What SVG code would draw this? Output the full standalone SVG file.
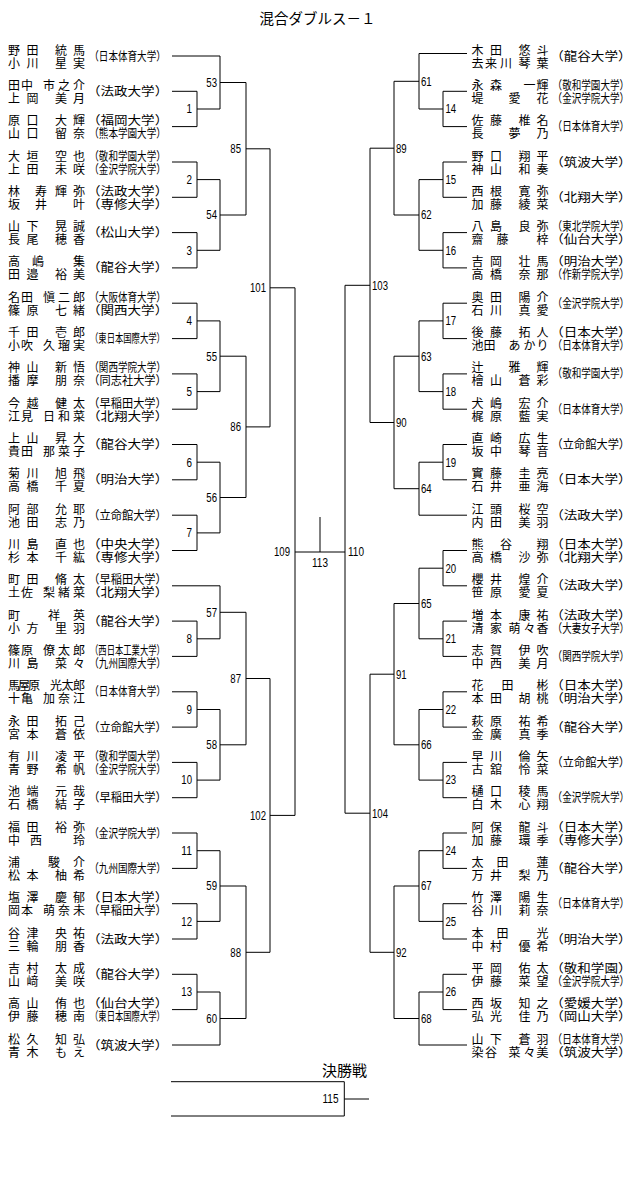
<svg xmlns="http://www.w3.org/2000/svg" width="640" height="1177" viewBox="0 0 640 1177">
<style>
text { font-family: 'Noto Sans CJK JP', 'Noto Sans CJK SC', sans-serif; fill: #000; }
.n { font-size: 12px; }
.u { font-size: 12px; }
.d { font-family: 'Liberation Sans', Arial, sans-serif; font-size: 12px; }
.de { font-family: 'Liberation Sans', Arial, sans-serif; font-size: 12px; text-anchor: end; }
.conn { fill: none; stroke: #000; stroke-width: 1; }
</style>
<rect width="640" height="1177" fill="#fff"/>
<text x="317.5" y="24" font-size="14.5" text-anchor="middle">混合ダブルス－１</text>

<g id="connectors" class="conn">
<path d="M172 56H220M172 91.3H197M172 126.6H197M172 162H197M172 197.3H197M172 232.6H197M172 267.9H197M172 303.2H197M172 338.6H197M172 373.9H197M172 409.2H197M172 444.5H197M172 479.8H197M172 515.2H197M172 550.5H197M172 585.8H220M172 621.1H197M172 656.4H197M172 691.8H197M172 727.1H197M172 762.4H197M172 797.7H197M172 833H197M172 868.4H197M172 903.7H197M172 939H197M172 974.3H197M172 1009.6H197M172 1045H220"/>
<path d="M197 91.3V126.6M197 109H220M197 162V197.3M197 179.6H220M197 232.6V267.9M197 250.3H220M197 303.2V338.6M197 320.9H220M197 373.9V409.2M197 391.6H220M197 444.5V479.8M197 462.2H220M197 515.2V550.5M197 532.9H220M197 621.1V656.4M197 638.8H220M197 691.8V727.1M197 709.5H220M197 762.4V797.7M197 780.1H220M197 833V868.4M197 850.7H220M197 903.7V939M197 921.4H220M197 974.3V1009.6M197 992H220"/>
<path d="M220 56V109M220 82.5H246M220 179.6V250.3M220 215H246M220 320.9V391.6M220 356.2H246M220 462.2V532.9M220 497.5H246M220 585.8V638.8M220 612.3H246M220 709.5V780.1M220 744.8H246M220 850.7V921.4M220 886H246M220 992V1045M220 1018.5H246"/>
<path d="M246 82.5V215M246 148.8H270M246 356.2V497.5M246 426.9H270M246 612.3V744.8M246 678.5H270M246 886V1018.5M246 952.3H270"/>
<path d="M270 148.8V426.9M270 287.8H295M270 678.5V952.3M270 815.4H295M295 287.8V815.4"/>
<path d="M295 552H345M320 517V552"/>
<path d="M467 53.5H419M467 91.3H443M467 126.6H443M467 162H443M467 197.3H443M467 232.6H443M467 267.9H443M467 303.2H443M467 338.6H443M467 373.9H443M467 409.2H443M467 444.5H443M467 479.8H443M467 515.2H419M467 550.5H443M467 585.8H443M467 621.1H443M467 656.4H443M467 691.8H443M467 727.1H443M467 762.4H443M467 797.7H443M467 833H443M467 868.4H443M467 903.7H443M467 939H443M467 974.3H443M467 1009.6H443M467 1045H419"/>
<path d="M443 91.3V126.6M443 109H419M443 162V197.3M443 179.6H419M443 232.6V267.9M443 250.3H419M443 303.2V338.6M443 320.9H419M443 373.9V409.2M443 391.6H419M443 444.5V479.8M443 462.2H419M443 550.5V585.8M443 568.2H419M443 621.1V656.4M443 638.8H419M443 691.8V727.1M443 709.5H419M443 762.4V797.7M443 780.1H419M443 833V868.4M443 850.7H419M443 903.7V939M443 921.4H419M443 974.3V1009.6M443 992H419"/>
<path d="M419 53.5V109M419 81.3H394M419 179.6V250.3M419 215H394M419 320.9V391.6M419 356.2H394M419 462.2V515.2M419 488.7H394M419 568.2V638.8M419 603.5H394M419 709.5V780.1M419 744.8H394M419 850.7V921.4M419 886H394M419 992V1045M419 1018.5H394"/>
<path d="M394 81.3V215M394 148.2H370M394 356.2V488.7M394 422.5H370M394 603.5V744.8M394 674.2H370M394 886V1018.5M394 952.3H370"/>
<path d="M370 148.2V422.5M370 285.3H345M370 674.2V952.3M370 813.2H345M345 285.3V813.2"/>
<path d="M171 1081.7H344.3V1116H171M344.3 1099H369"/>
</g>

<g id="match-labels">
<g id="m1"><text class="de" x="192" y="113.3" textLength="5.5" lengthAdjust="spacingAndGlyphs">1</text></g>
<g id="m2"><text class="de" x="192" y="183.9" textLength="5.5" lengthAdjust="spacingAndGlyphs">2</text></g>
<g id="m3"><text class="de" x="192" y="254.6" textLength="5.5" lengthAdjust="spacingAndGlyphs">3</text></g>
<g id="m4"><text class="de" x="192" y="325.2" textLength="5.5" lengthAdjust="spacingAndGlyphs">4</text></g>
<g id="m5"><text class="de" x="192" y="395.9" textLength="5.5" lengthAdjust="spacingAndGlyphs">5</text></g>
<g id="m6"><text class="de" x="192" y="466.5" textLength="5.5" lengthAdjust="spacingAndGlyphs">6</text></g>
<g id="m7"><text class="de" x="192" y="537.2" textLength="5.5" lengthAdjust="spacingAndGlyphs">7</text></g>
<g id="m8"><text class="de" x="192" y="643.1" textLength="5.5" lengthAdjust="spacingAndGlyphs">8</text></g>
<g id="m9"><text class="de" x="192" y="713.8" textLength="5.5" lengthAdjust="spacingAndGlyphs">9</text></g>
<g id="m10"><text class="de" x="192" y="784.4" textLength="10.7" lengthAdjust="spacingAndGlyphs">10</text></g>
<g id="m11"><text class="de" x="192" y="855" textLength="10.7" lengthAdjust="spacingAndGlyphs">11</text></g>
<g id="m12"><text class="de" x="192" y="925.7" textLength="10.7" lengthAdjust="spacingAndGlyphs">12</text></g>
<g id="m13"><text class="de" x="192" y="996.3" textLength="10.7" lengthAdjust="spacingAndGlyphs">13</text></g>
<g id="m53"><text class="de" x="217" y="86.8" textLength="10.7" lengthAdjust="spacingAndGlyphs">53</text></g>
<g id="m54"><text class="de" x="217" y="219.3" textLength="10.7" lengthAdjust="spacingAndGlyphs">54</text></g>
<g id="m55"><text class="de" x="217" y="360.5" textLength="10.7" lengthAdjust="spacingAndGlyphs">55</text></g>
<g id="m56"><text class="de" x="217" y="501.8" textLength="10.7" lengthAdjust="spacingAndGlyphs">56</text></g>
<g id="m57"><text class="de" x="217" y="616.6" textLength="10.7" lengthAdjust="spacingAndGlyphs">57</text></g>
<g id="m58"><text class="de" x="217" y="749.1" textLength="10.7" lengthAdjust="spacingAndGlyphs">58</text></g>
<g id="m59"><text class="de" x="217" y="890.3" textLength="10.7" lengthAdjust="spacingAndGlyphs">59</text></g>
<g id="m60"><text class="de" x="217" y="1022.8" textLength="10.7" lengthAdjust="spacingAndGlyphs">60</text></g>
<g id="m85"><text class="de" x="241" y="153.1" textLength="10.7" lengthAdjust="spacingAndGlyphs">85</text></g>
<g id="m86"><text class="de" x="241" y="431.2" textLength="10.7" lengthAdjust="spacingAndGlyphs">86</text></g>
<g id="m87"><text class="de" x="241" y="682.8" textLength="10.7" lengthAdjust="spacingAndGlyphs">87</text></g>
<g id="m88"><text class="de" x="241" y="956.6" textLength="10.7" lengthAdjust="spacingAndGlyphs">88</text></g>
<g id="m101"><text class="de" x="266" y="292.1" textLength="16" lengthAdjust="spacingAndGlyphs">101</text></g>
<g id="m102"><text class="de" x="266" y="819.7" textLength="16" lengthAdjust="spacingAndGlyphs">102</text></g>
<g id="m109"><text class="de" x="290" y="556.3" textLength="16" lengthAdjust="spacingAndGlyphs">109</text></g>
<g id="m14"><text class="d" x="445.5" y="113.3" textLength="10.7" lengthAdjust="spacingAndGlyphs">14</text></g>
<g id="m15"><text class="d" x="445.5" y="183.9" textLength="10.7" lengthAdjust="spacingAndGlyphs">15</text></g>
<g id="m16"><text class="d" x="445.5" y="254.6" textLength="10.7" lengthAdjust="spacingAndGlyphs">16</text></g>
<g id="m17"><text class="d" x="445.5" y="325.2" textLength="10.7" lengthAdjust="spacingAndGlyphs">17</text></g>
<g id="m18"><text class="d" x="445.5" y="395.9" textLength="10.7" lengthAdjust="spacingAndGlyphs">18</text></g>
<g id="m19"><text class="d" x="445.5" y="466.5" textLength="10.7" lengthAdjust="spacingAndGlyphs">19</text></g>
<g id="m20"><text class="d" x="445.5" y="572.5" textLength="10.7" lengthAdjust="spacingAndGlyphs">20</text></g>
<g id="m21"><text class="d" x="445.5" y="643.1" textLength="10.7" lengthAdjust="spacingAndGlyphs">21</text></g>
<g id="m22"><text class="d" x="445.5" y="713.8" textLength="10.7" lengthAdjust="spacingAndGlyphs">22</text></g>
<g id="m23"><text class="d" x="445.5" y="784.4" textLength="10.7" lengthAdjust="spacingAndGlyphs">23</text></g>
<g id="m24"><text class="d" x="445.5" y="855" textLength="10.7" lengthAdjust="spacingAndGlyphs">24</text></g>
<g id="m25"><text class="d" x="445.5" y="925.7" textLength="10.7" lengthAdjust="spacingAndGlyphs">25</text></g>
<g id="m26"><text class="d" x="445.5" y="996.3" textLength="10.7" lengthAdjust="spacingAndGlyphs">26</text></g>
<g id="m61"><text class="d" x="421" y="85.6" textLength="10.7" lengthAdjust="spacingAndGlyphs">61</text></g>
<g id="m62"><text class="d" x="421" y="219.3" textLength="10.7" lengthAdjust="spacingAndGlyphs">62</text></g>
<g id="m63"><text class="d" x="421" y="360.5" textLength="10.7" lengthAdjust="spacingAndGlyphs">63</text></g>
<g id="m64"><text class="d" x="421" y="493" textLength="10.7" lengthAdjust="spacingAndGlyphs">64</text></g>
<g id="m65"><text class="d" x="421" y="607.8" textLength="10.7" lengthAdjust="spacingAndGlyphs">65</text></g>
<g id="m66"><text class="d" x="421" y="749.1" textLength="10.7" lengthAdjust="spacingAndGlyphs">66</text></g>
<g id="m67"><text class="d" x="421" y="890.3" textLength="10.7" lengthAdjust="spacingAndGlyphs">67</text></g>
<g id="m68"><text class="d" x="421" y="1022.8" textLength="10.7" lengthAdjust="spacingAndGlyphs">68</text></g>
<g id="m89"><text class="d" x="396" y="152.5" textLength="10.7" lengthAdjust="spacingAndGlyphs">89</text></g>
<g id="m90"><text class="d" x="396" y="426.8" textLength="10.7" lengthAdjust="spacingAndGlyphs">90</text></g>
<g id="m91"><text class="d" x="396" y="678.5" textLength="10.7" lengthAdjust="spacingAndGlyphs">91</text></g>
<g id="m92"><text class="d" x="396" y="956.6" textLength="10.7" lengthAdjust="spacingAndGlyphs">92</text></g>
<g id="m103"><text class="d" x="372" y="289.6" textLength="16" lengthAdjust="spacingAndGlyphs">103</text></g>
<g id="m104"><text class="d" x="372" y="817.5" textLength="16" lengthAdjust="spacingAndGlyphs">104</text></g>
<g id="m110"><text class="d" x="348" y="556.3" textLength="16" lengthAdjust="spacingAndGlyphs">110</text></g>
<g id="m113"><text class="d" x="320" y="567" text-anchor="middle" textLength="16" lengthAdjust="spacingAndGlyphs">113</text></g>
<g id="m115"><text class="de" x="338.5" y="1103.3" textLength="16" lengthAdjust="spacingAndGlyphs">115</text></g>
</g>

<g id="final-title"><text x="322" y="1076" font-size="15">決勝戦</text></g>

<g id="L01"><text class="n"><tspan x="8 26.5 55 73" y="54.5">野田統馬</tspan><tspan x="8 26.5 55 73" y="67.5">小川星実</tspan></text><text class="u" transform="translate(89.3 60.5) scale(0.797 1)">（日本体育大学）</text></g>
<g id="L02"><text class="n"><tspan x="8 21 43 58 73" y="89.8">田中市之介</tspan><tspan x="8 26.5 55 73" y="102.8">上岡美月</tspan></text><text class="u" transform="translate(86.9 95.8) scale(1.13 1)">（法政大学）</text></g>
<g id="L03"><text class="n"><tspan x="8 26.5 55 73" y="125.1">原口大輝</tspan><tspan x="8 26.5 55 73" y="138.1">山口留奈</tspan></text><text class="u" transform="translate(86.9 125.1) scale(1.13 1)">（福岡大学）</text><text class="u" transform="translate(89.3 138.1) scale(0.797 1)">（熊本学園大学）</text></g>
<g id="L04"><text class="n"><tspan x="8 26.5 55 73" y="160.5">大垣空也</tspan><tspan x="8 26.5 55 73" y="173.5">上田未咲</tspan></text><text class="u" transform="translate(89.3 160.5) scale(0.797 1)">（敬和学園大学）</text><text class="u" transform="translate(89.3 173.5) scale(0.797 1)">（金沢学院大学）</text></g>
<g id="L05"><text class="n"><tspan x="8 35 55 73" y="195.8">林寿輝弥</tspan><tspan x="8 35 73" y="208.8">坂井叶</tspan></text><text class="u" transform="translate(86.9 195.8) scale(1.13 1)">（法政大学）</text><text class="u" transform="translate(86.9 208.8) scale(1.13 1)">（専修大学）</text></g>
<g id="L06"><text class="n"><tspan x="8 26.5 55 73" y="231.1">山下晃誠</tspan><tspan x="8 26.5 55 73" y="244.1">長尾穂香</tspan></text><text class="u" transform="translate(86.9 237.1) scale(1.13 1)">（松山大学）</text></g>
<g id="L07"><text class="n"><tspan x="8 32 73" y="266.4">高嶋集</tspan><tspan x="8 26.5 55 73" y="279.4">田邉裕美</tspan></text><text class="u" transform="translate(86.9 272.4) scale(1.13 1)">（龍谷大学）</text></g>
<g id="L08"><text class="n"><tspan x="8 21 43 58 73" y="301.7">名田愼二郎</tspan><tspan x="8 26.5 55 73" y="314.7">篠原七緒</tspan></text><text class="u" transform="translate(89.3 301.7) scale(0.797 1)">（大阪体育大学）</text><text class="u" transform="translate(86.9 314.7) scale(1.13 1)">（関西大学）</text></g>
<g id="L09"><text class="n"><tspan x="8 26.5 55 73" y="337.1">千田壱郎</tspan><tspan x="8 21 43 58 73" y="350.1">小吹久瑠実</tspan></text><text class="u" transform="translate(90 343.1) scale(0.694 1)">（東日本国際大学）</text></g>
<g id="L10"><text class="n"><tspan x="8 26.5 55 73" y="372.4">神山新悟</tspan><tspan x="8 26.5 55 73" y="385.4">播摩朋奈</tspan></text><text class="u" transform="translate(89.3 372.4) scale(0.797 1)">（関西学院大学）</text><text class="u" transform="translate(88.3 385.4) scale(0.934 1)">（同志社大学）</text></g>
<g id="L11"><text class="n"><tspan x="8 26.5 55 73" y="407.7">今越健太</tspan><tspan x="8 21 43 58 73" y="420.7">江見日和菜</tspan></text><text class="u" transform="translate(88.3 407.7) scale(0.934 1)">（早稲田大学）</text><text class="u" transform="translate(86.9 420.7) scale(1.13 1)">（北翔大学）</text></g>
<g id="L12"><text class="n"><tspan x="8 26.5 55 73" y="443">上山昇大</tspan><tspan x="8 21 43 58 73" y="456">貴田那菜子</tspan></text><text class="u" transform="translate(86.9 449) scale(1.13 1)">（龍谷大学）</text></g>
<g id="L13"><text class="n"><tspan x="8 26.5 55 73" y="478.3">菊川旭飛</tspan><tspan x="8 26.5 55 73" y="491.3">高橋千夏</tspan></text><text class="u" transform="translate(86.9 484.3) scale(1.13 1)">（明治大学）</text></g>
<g id="L14"><text class="n"><tspan x="8 26.5 55 73" y="513.7">阿部允耶</tspan><tspan x="8 26.5 55 73" y="526.7">池田志乃</tspan></text><text class="u" transform="translate(88.3 519.7) scale(0.934 1)">（立命館大学）</text></g>
<g id="L15"><text class="n"><tspan x="8 26.5 55 73" y="549">川島直也</tspan><tspan x="8 26.5 55 73" y="562">杉本千紘</tspan></text><text class="u" transform="translate(86.9 549) scale(1.13 1)">（中央大学）</text><text class="u" transform="translate(86.9 562) scale(1.13 1)">（専修大学）</text></g>
<g id="L16"><text class="n"><tspan x="8 26.5 55 73" y="584.3">町田脩太</tspan><tspan x="8 21 43 58 73" y="597.3">土佐梨緒菜</tspan></text><text class="u" transform="translate(88.3 584.3) scale(0.934 1)">（早稲田大学）</text><text class="u" transform="translate(86.9 597.3) scale(1.13 1)">（北翔大学）</text></g>
<g id="L17"><text class="n"><tspan x="8 48 73" y="619.6">町祥英</tspan><tspan x="8 26.5 55 73" y="632.6">小方里羽</tspan></text><text class="u" transform="translate(86.9 625.6) scale(1.13 1)">（龍谷大学）</text></g>
<g id="L18"><text class="n"><tspan x="8 21 43 58 73" y="654.9">篠原僚太郎</tspan><tspan x="8 26.5 55 73" y="667.9">川島菜々</tspan></text><text class="u" transform="translate(90 654.9) scale(0.694 1)">（西日本工業大学）</text><text class="u" transform="translate(89.3 667.9) scale(0.797 1)">（九州国際大学）</text></g>
<g id="L19"><text class="n"><tspan x="8 18 28 50 61.5 73" y="690.3">馬屋原光太郎</tspan><tspan x="8 21 43 58 73" y="703.3">十亀加奈江</tspan></text><text class="u" transform="translate(89.3 696.3) scale(0.797 1)">（日本体育大学）</text></g>
<g id="L20"><text class="n"><tspan x="8 26.5 55 73" y="725.6">永田拓己</tspan><tspan x="8 26.5 55 73" y="738.6">宮本蒼依</tspan></text><text class="u" transform="translate(88.3 731.6) scale(0.934 1)">（立命館大学）</text></g>
<g id="L21"><text class="n"><tspan x="8 26.5 55 73" y="760.9">有川凌平</tspan><tspan x="8 26.5 55 73" y="773.9">青野希帆</tspan></text><text class="u" transform="translate(89.3 760.9) scale(0.797 1)">（敬和学園大学）</text><text class="u" transform="translate(89.3 773.9) scale(0.797 1)">（金沢学院大学）</text></g>
<g id="L22"><text class="n"><tspan x="8 26.5 55 73" y="796.2">池端元哉</tspan><tspan x="8 26.5 55 73" y="809.2">石橋結子</tspan></text><text class="u" transform="translate(88.3 802.2) scale(0.934 1)">（早稲田大学）</text></g>
<g id="L23"><text class="n"><tspan x="8 26.5 55 73" y="831.5">福田裕弥</tspan><tspan x="8 30 73" y="844.5">中西玲</tspan></text><text class="u" transform="translate(89.3 837.5) scale(0.797 1)">（金沢学院大学）</text></g>
<g id="L24"><text class="n"><tspan x="8 48 73" y="866.9">浦駿介</tspan><tspan x="8 26.5 55 73" y="879.9">松本柚希</tspan></text><text class="u" transform="translate(89.3 872.9) scale(0.797 1)">（九州国際大学）</text></g>
<g id="L25"><text class="n"><tspan x="8 26.5 55 73" y="902.2">塩澤慶郁</tspan><tspan x="8 21 43 58 73" y="915.2">岡本萌奈未</tspan></text><text class="u" transform="translate(86.9 902.2) scale(1.13 1)">（日本大学）</text><text class="u" transform="translate(88.3 915.2) scale(0.934 1)">（早稲田大学）</text></g>
<g id="L26"><text class="n"><tspan x="8 26.5 55 73" y="937.5">谷津央祐</tspan><tspan x="8 26.5 55 73" y="950.5">三輪朋香</tspan></text><text class="u" transform="translate(86.9 943.5) scale(1.13 1)">（法政大学）</text></g>
<g id="L27"><text class="n"><tspan x="8 26.5 55 73" y="972.8">吉村太成</tspan><tspan x="8 26.5 55 73" y="985.8">山﨑美咲</tspan></text><text class="u" transform="translate(86.9 978.8) scale(1.13 1)">（龍谷大学）</text></g>
<g id="L28"><text class="n"><tspan x="8 26.5 55 73" y="1008.1">高山侑也</tspan><tspan x="8 26.5 55 73" y="1021.1">伊藤穂南</tspan></text><text class="u" transform="translate(86.9 1008.1) scale(1.13 1)">（仙台大学）</text><text class="u" transform="translate(90 1021.1) scale(0.694 1)">（東日本国際大学）</text></g>
<g id="L29"><text class="n"><tspan x="8 26.5 55 73" y="1043.5">松久知弘</tspan><tspan x="8 26.5 55 73" y="1056.5">青木もえ</tspan></text><text class="u" transform="translate(86.9 1049.5) scale(1.13 1)">（筑波大学）</text></g>

<g id="R01"><text class="n"><tspan x="471.5 490 518.5 536.5" y="54.5">木田悠斗</tspan><tspan x="471.5 485 500 518.5 536.5" y="67.5">去来川琴葉</tspan></text><text class="u" transform="translate(550.2 60.5) scale(1.13 1)">（龍谷大学）</text></g>
<g id="R02"><text class="n"><tspan x="471.5 490 523.5 536.5" y="89.8">永森一輝</tspan><tspan x="471.5 508.5 536.5" y="102.8">堤愛花</tspan></text><text class="u" transform="translate(552.6 89.8) scale(0.797 1)">（敬和学園大学）</text><text class="u" transform="translate(552.6 102.8) scale(0.797 1)">（金沢学院大学）</text></g>
<g id="R03"><text class="n"><tspan x="471.5 490 518.5 536.5" y="125.1">佐藤椎名</tspan><tspan x="471.5 508.5 536.5" y="138.1">長夢乃</tspan></text><text class="u" transform="translate(552.6 131.1) scale(0.797 1)">（日本体育大学）</text></g>
<g id="R04"><text class="n"><tspan x="471.5 490 518.5 536.5" y="160.5">野口翔平</tspan><tspan x="471.5 490 518.5 536.5" y="173.5">神山和奏</tspan></text><text class="u" transform="translate(550.2 166.5) scale(1.13 1)">（筑波大学）</text></g>
<g id="R05"><text class="n"><tspan x="471.5 490 518.5 536.5" y="195.8">西根寛弥</tspan><tspan x="471.5 490 518.5 536.5" y="208.8">加藤綾菜</tspan></text><text class="u" transform="translate(550.2 201.8) scale(1.13 1)">（北翔大学）</text></g>
<g id="R06"><text class="n"><tspan x="471.5 490 518.5 536.5" y="231.1">八島良弥</tspan><tspan x="471.5 496.5 536.5" y="244.1">齋藤梓</tspan></text><text class="u" transform="translate(552.6 231.1) scale(0.797 1)">（東北学院大学）</text><text class="u" transform="translate(550.2 244.1) scale(1.13 1)">（仙台大学）</text></g>
<g id="R07"><text class="n"><tspan x="471.5 490 518.5 536.5" y="266.4">吉岡壮馬</tspan><tspan x="471.5 490 518.5 536.5" y="279.4">高橋奈那</tspan></text><text class="u" transform="translate(550.2 266.4) scale(1.13 1)">（明治大学）</text><text class="u" transform="translate(552.6 279.4) scale(0.797 1)">（作新学院大学）</text></g>
<g id="R08"><text class="n"><tspan x="471.5 490 518.5 536.5" y="301.7">奥田陽介</tspan><tspan x="471.5 490 518.5 536.5" y="314.7">石川真愛</tspan></text><text class="u" transform="translate(552.6 307.7) scale(0.797 1)">（金沢学院大学）</text></g>
<g id="R09"><text class="n"><tspan x="471.5 490 518.5 536.5" y="337.1">後藤拓人</tspan><tspan x="471.5 483.5 508.5 523.5 536.5" y="350.1">池田あかり</tspan></text><text class="u" transform="translate(550.2 337.1) scale(1.13 1)">（日本大学）</text><text class="u" transform="translate(552.6 350.1) scale(0.797 1)">（日本体育大学）</text></g>
<g id="R10"><text class="n"><tspan x="471.5 508.5 536.5" y="372.4">辻雅輝</tspan><tspan x="471.5 490 518.5 536.5" y="385.4">檜山蒼彩</tspan></text><text class="u" transform="translate(552.6 378.4) scale(0.797 1)">（敬和学園大学）</text></g>
<g id="R11"><text class="n"><tspan x="471.5 490 518.5 536.5" y="407.7">犬嶋宏介</tspan><tspan x="471.5 490 518.5 536.5" y="420.7">梶原藍実</tspan></text><text class="u" transform="translate(552.6 413.7) scale(0.797 1)">（日本体育大学）</text></g>
<g id="R12"><text class="n"><tspan x="471.5 490 518.5 536.5" y="443">直崎広生</tspan><tspan x="471.5 490 518.5 536.5" y="456">坂中琴音</tspan></text><text class="u" transform="translate(551.6 449) scale(0.934 1)">（立命館大学）</text></g>
<g id="R13"><text class="n"><tspan x="471.5 490 518.5 536.5" y="478.3">實藤圭亮</tspan><tspan x="471.5 490 518.5 536.5" y="491.3">石井亜海</tspan></text><text class="u" transform="translate(550.2 484.3) scale(1.13 1)">（日本大学）</text></g>
<g id="R14"><text class="n"><tspan x="471.5 490 518.5 536.5" y="513.7">江頭桜空</tspan><tspan x="471.5 490 518.5 536.5" y="526.7">内田美羽</tspan></text><text class="u" transform="translate(550.2 519.7) scale(1.13 1)">（法政大学）</text></g>
<g id="R15"><text class="n"><tspan x="471.5 500 536.5" y="549">熊谷翔</tspan><tspan x="471.5 490 518.5 536.5" y="562">高橋沙弥</tspan></text><text class="u" transform="translate(550.2 549) scale(1.13 1)">（日本大学）</text><text class="u" transform="translate(550.2 562) scale(1.13 1)">（北翔大学）</text></g>
<g id="R16"><text class="n"><tspan x="471.5 490 518.5 536.5" y="584.3">櫻井煌介</tspan><tspan x="471.5 490 518.5 536.5" y="597.3">笹原愛夏</tspan></text><text class="u" transform="translate(550.2 590.3) scale(1.13 1)">（法政大学）</text></g>
<g id="R17"><text class="n"><tspan x="471.5 490 518.5 536.5" y="619.6">増本康祐</tspan><tspan x="471.5 490 508.5 523.5 536.5" y="632.6">清家萌々香</tspan></text><text class="u" transform="translate(550.2 619.6) scale(1.13 1)">（法政大学）</text><text class="u" transform="translate(552.6 632.6) scale(0.797 1)">（大妻女子大学）</text></g>
<g id="R18"><text class="n"><tspan x="471.5 490 518.5 536.5" y="654.9">志賀伊吹</tspan><tspan x="471.5 490 518.5 536.5" y="667.9">中西美月</tspan></text><text class="u" transform="translate(552.6 660.9) scale(0.797 1)">（関西学院大学）</text></g>
<g id="R19"><text class="n"><tspan x="471.5 501.5 536.5" y="690.3">花田彬</tspan><tspan x="471.5 490 518.5 536.5" y="703.3">本田胡桃</tspan></text><text class="u" transform="translate(550.2 690.3) scale(1.13 1)">（日本大学）</text><text class="u" transform="translate(550.2 703.3) scale(1.13 1)">（明治大学）</text></g>
<g id="R20"><text class="n"><tspan x="471.5 490 518.5 536.5" y="725.6">萩原祐希</tspan><tspan x="471.5 490 518.5 536.5" y="738.6">金廣真季</tspan></text><text class="u" transform="translate(550.2 731.6) scale(1.13 1)">（龍谷大学）</text></g>
<g id="R21"><text class="n"><tspan x="471.5 490 518.5 536.5" y="760.9">早川倫矢</tspan><tspan x="471.5 490 518.5 536.5" y="773.9">古舘怜菜</tspan></text><text class="u" transform="translate(551.6 766.9) scale(0.934 1)">（立命館大学）</text></g>
<g id="R22"><text class="n"><tspan x="471.5 490 518.5 536.5" y="796.2">樋口稜馬</tspan><tspan x="471.5 490 518.5 536.5" y="809.2">白木心翔</tspan></text><text class="u" transform="translate(552.6 802.2) scale(0.797 1)">（金沢学院大学）</text></g>
<g id="R23"><text class="n"><tspan x="471.5 490 518.5 536.5" y="831.5">阿保龍斗</tspan><tspan x="471.5 490 518.5 536.5" y="844.5">加藤環季</tspan></text><text class="u" transform="translate(550.2 831.5) scale(1.13 1)">（日本大学）</text><text class="u" transform="translate(550.2 844.5) scale(1.13 1)">（専修大学）</text></g>
<g id="R24"><text class="n"><tspan x="471.5 496.5 536.5" y="866.9">太田蓮</tspan><tspan x="471.5 490 518.5 536.5" y="879.9">万井梨乃</tspan></text><text class="u" transform="translate(550.2 872.9) scale(1.13 1)">（龍谷大学）</text></g>
<g id="R25"><text class="n"><tspan x="471.5 490 518.5 536.5" y="902.2">竹澤陽生</tspan><tspan x="471.5 490 518.5 536.5" y="915.2">谷川莉奈</tspan></text><text class="u" transform="translate(552.6 908.2) scale(0.797 1)">（日本体育大学）</text></g>
<g id="R26"><text class="n"><tspan x="471.5 496.5 536.5" y="937.5">本田光</tspan><tspan x="471.5 490 518.5 536.5" y="950.5">中村優希</tspan></text><text class="u" transform="translate(550.2 943.5) scale(1.13 1)">（明治大学）</text></g>
<g id="R27"><text class="n"><tspan x="471.5 490 518.5 536.5" y="972.8">平岡佑太</tspan><tspan x="471.5 490 518.5 536.5" y="985.8">伊藤菜望</tspan></text><text class="u" transform="translate(550.2 972.8) scale(1.13 1)">（敬和学園）</text><text class="u" transform="translate(552.6 985.8) scale(0.797 1)">（金沢学院大学）</text></g>
<g id="R28"><text class="n"><tspan x="471.5 490 518.5 536.5" y="1008.1">西坂知之</tspan><tspan x="471.5 490 518.5 536.5" y="1021.1">弘光佳乃</tspan></text><text class="u" transform="translate(550.2 1008.1) scale(1.13 1)">（愛媛大学）</text><text class="u" transform="translate(550.2 1021.1) scale(1.13 1)">（岡山大学）</text></g>
<g id="R29"><text class="n"><tspan x="471.5 490 518.5 536.5" y="1043.5">山下蒼羽</tspan><tspan x="471.5 485 508.5 523.5 536.5" y="1056.5">染谷菜々美</tspan></text><text class="u" transform="translate(552.6 1043.5) scale(0.797 1)">（日本体育大学）</text><text class="u" transform="translate(550.2 1056.5) scale(1.13 1)">（筑波大学）</text></g>
</svg>
